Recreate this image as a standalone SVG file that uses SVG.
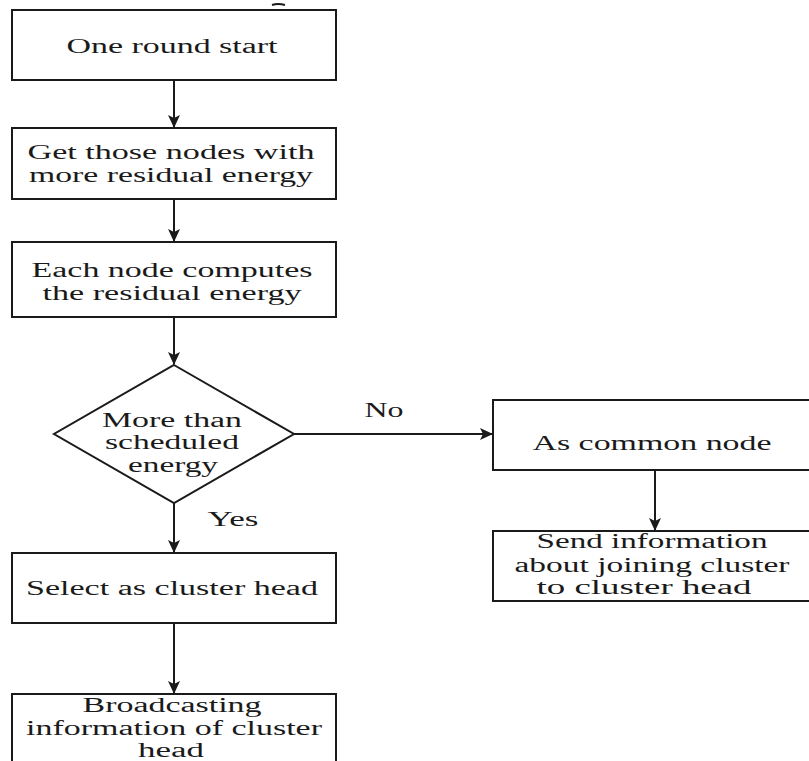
<svg xmlns="http://www.w3.org/2000/svg" width="809" height="761" viewBox="0 0 809 761">
<style>
.box{fill:#fff;stroke:#1a1a1a;stroke-width:2}
.t{font-family:"Liberation Serif","Times New Roman",serif;font-size:20px;fill:#1a1a1a;text-anchor:middle}
.c{stroke:#1a1a1a;stroke-width:2;fill:none}
</style>
<defs>
<marker id="ah" markerWidth="14" markerHeight="14" refX="12" refY="7" orient="auto" markerUnits="userSpaceOnUse">
<path d="M0,1 L13,7 L0,13 L3,7 Z" fill="#1a1a1a"/>
</marker>
</defs>
<rect width="809" height="761" fill="#fff"/>
<path d="M272,5 Q278,3 285,5" stroke="#1a1a1a" stroke-width="2" fill="none"/>
<g id="connectors">
<line class="c" x1="174" y1="80" x2="174" y2="127" marker-end="url(#ah)"/>
<line class="c" x1="174" y1="199" x2="174" y2="241" marker-end="url(#ah)"/>
<line class="c" x1="174" y1="317" x2="174" y2="364" marker-end="url(#ah)"/>
<line class="c" x1="174" y1="503" x2="174" y2="552" marker-end="url(#ah)"/>
<line class="c" x1="174" y1="623" x2="174" y2="693" marker-end="url(#ah)"/>
<line class="c" x1="294" y1="434" x2="492" y2="434" marker-end="url(#ah)"/>
<line class="c" x1="655" y1="470" x2="655" y2="530" marker-end="url(#ah)"/>
<text class="t" x="384" y="417" textLength="39" lengthAdjust="spacingAndGlyphs">No</text>
<text class="t" x="233" y="526" textLength="51" lengthAdjust="spacingAndGlyphs">Yes</text>
</g>
<g id="n1">
<rect class="box" x="12" y="10" width="324" height="70"/>
<text class="t" x="172" y="53" textLength="211" lengthAdjust="spacingAndGlyphs">One round start</text>
</g>
<g id="n2">
<rect class="box" x="12" y="128" width="324" height="71"/>
<text class="t" x="171" y="159" textLength="287" lengthAdjust="spacingAndGlyphs">Get those nodes with</text>
<text class="t" x="171" y="182" textLength="284" lengthAdjust="spacingAndGlyphs">more residual energy</text>
</g>
<g id="n3">
<rect class="box" x="12" y="242" width="324" height="75"/>
<text class="t" x="172" y="277" textLength="281" lengthAdjust="spacingAndGlyphs">Each node computes</text>
<text class="t" x="172" y="300" textLength="259" lengthAdjust="spacingAndGlyphs">the residual energy</text>
</g>
<g id="n4">
<polygon class="box" points="174,365 294,434 174,503 54,434"/>
<text class="t" x="172" y="427" textLength="140" lengthAdjust="spacingAndGlyphs">More than</text>
<text class="t" x="172" y="449" textLength="134" lengthAdjust="spacingAndGlyphs">scheduled</text>
<text class="t" x="173" y="472" textLength="90" lengthAdjust="spacingAndGlyphs">energy</text>
</g>
<g id="n5">
<rect class="box" x="12" y="553" width="324" height="70"/>
<text class="t" x="172" y="595" textLength="292" lengthAdjust="spacingAndGlyphs">Select as cluster head</text>
</g>
<g id="n6">
<rect class="box" x="12" y="694" width="324" height="80"/>
<text class="t" x="172" y="712" textLength="179" lengthAdjust="spacingAndGlyphs">Broadcasting</text>
<text class="t" x="174" y="735" textLength="296" lengthAdjust="spacingAndGlyphs">information of cluster</text>
<text class="t" x="171" y="757" textLength="66" lengthAdjust="spacingAndGlyphs">head</text>
</g>
<g id="n7">
<rect class="box" x="493" y="400" width="322" height="70"/>
<text class="t" x="652" y="450" textLength="239" lengthAdjust="spacingAndGlyphs">As common node</text>
</g>
<g id="n8">
<rect class="box" x="493" y="531" width="322" height="70"/>
<text class="t" x="652" y="548" textLength="231" lengthAdjust="spacingAndGlyphs">Send information</text>
<text class="t" x="652" y="572" textLength="275" lengthAdjust="spacingAndGlyphs">about joining cluster</text>
<text class="t" x="644" y="594" textLength="215" lengthAdjust="spacingAndGlyphs">to cluster head</text>
</g>
</svg>
